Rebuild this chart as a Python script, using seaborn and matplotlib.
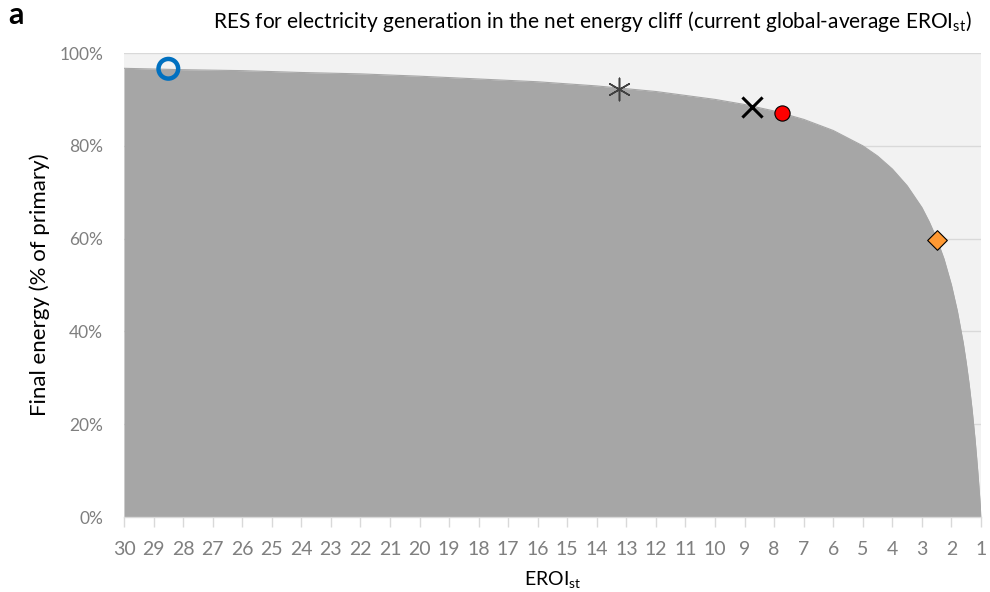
import matplotlib
matplotlib.use("Agg")
import matplotlib.pyplot as plt
import seaborn as sns
import pandas as pd
from matplotlib.ticker import PercentFormatter

# ---- data ----
eroi = [30, 28, 26, 24, 22, 20, 18, 16, 14, 12, 10, 9, 8, 7, 6, 5, 4.5, 4, 3.5, 3,
        2.75, 2.5, 2.25, 2, 1.8, 1.6, 1.5, 1.4, 1.3, 1.2, 1.15, 1.1, 1.05, 1.02, 1]
final_share = [0.967, 0.964, 0.962, 0.958, 0.955, 0.950, 0.944, 0.938, 0.929, 0.917,
               0.900, 0.889, 0.875, 0.857, 0.833, 0.800, 0.778, 0.750, 0.714, 0.667,
               0.636, 0.600, 0.556, 0.500, 0.444, 0.375, 0.333, 0.286, 0.231, 0.167,
               0.130, 0.091, 0.048, 0.020, 0.000]

tech_names = ["circle", "asterisk", "cross", "dot", "diamond"]
tech_eroi = [28.5, 13.25, 8.75, 7.75, 2.5]
tech_share = [0.966, 0.923, 0.884, 0.871, 0.598]

x_ticks = list(range(30, 0, -1))
y_ticks = [0, 0.2, 0.4, 0.6, 0.8, 1.0]

title = "RES for electricity generation in the net energy cliff (current global-average EROI$_{\\mathrm{st}}$)"
xlabel = "EROI$_{\\mathrm{st}}$"
ylabel = "Final energy (% of primary)"

# ---- style ----
sns.set_theme(style="white")
plt.rcParams["font.family"] = ["Lato", "DejaVu Sans"]
plt.rcParams["mathtext.fontset"] = "custom"
plt.rcParams["mathtext.rm"] = "Lato"
plt.rcParams["mathtext.it"] = "Lato:italic"
plt.rcParams["mathtext.bf"] = "Lato:bold"

fig = plt.figure(figsize=(9.9, 5.92), dpi=100)
ax = fig.add_axes([124 / 990, 1 - 517 / 592, (981 - 124) / 990, (517 - 53) / 592])
ax.set_facecolor("#F2F2F2")

curve = pd.DataFrame({"eroi": eroi, "share": final_share})
ax.fill_between(curve["eroi"], 0, curve["share"], color="#A6A6A6", linewidth=0, zorder=2)
sns.lineplot(data=curve, x="eroi", y="share", ax=ax, color="#A6A6A6", linewidth=0.8,
             zorder=2, legend=False)

for yv in y_ticks[1:]:
    ax.axhline(yv, color="#D9D9D9", linewidth=1.0, zorder=1)

tech = pd.DataFrame({"name": tech_names, "eroi": tech_eroi, "share": tech_share})
styles = {
    "circle": dict(marker="o", s=200, facecolor="none", edgecolor="#0070C0", linewidth=3.2),
    "asterisk": dict(marker=(6, 2, 0), s=260, color="#404040", linewidth=1.1),
    "cross": dict(marker="x", s=210, color="black", linewidth=2.2),
    "dot": dict(marker="o", s=120, color="#FF0000", edgecolor="black", linewidth=0.8),
    "diamond": dict(marker="D", s=100, color="#FF9933", edgecolor="black", linewidth=0.8),
}
for name in tech_names:
    sub = tech[tech["name"] == name]
    sns.scatterplot(data=sub, x="eroi", y="share", ax=ax, zorder=5, legend=False,
                    **styles[name])

ax.set_xlim(30, 1)
ax.set_ylim(0, 1.0)
ax.set_xticks(x_ticks)
ax.set_xticklabels([str(v) for v in x_ticks])
ax.set_yticks(y_ticks)
ax.yaxis.set_major_formatter(PercentFormatter(1.0, decimals=0))

for s in ["top", "right", "left"]:
    ax.spines[s].set_visible(False)
ax.spines["bottom"].set_color("#D9D9D9")
ax.spines["bottom"].set_linewidth(1.0)
ax.spines["bottom"].set_zorder(3)

ax.tick_params(axis="x", bottom=True, length=7, width=1.0, color="#D9D9D9",
               labelsize=14, labelcolor="#7F7F7F", pad=10)
ax.tick_params(axis="y", left=False, labelsize=12.5, labelcolor="#7F7F7F", pad=9)

ax.set_xlabel(xlabel, fontsize=14, color="black", labelpad=8)
ax.set_ylabel(ylabel, fontsize=16, color="black", labelpad=7)

fig.text(592 / 990, 1 - 21 / 592, title, ha="center", va="center", fontsize=15,
         color="black")
fig.text(8 / 990, 1 - 15 / 592, "a", ha="left", va="center", fontsize=22,
         fontweight="bold", color="black")

fig.savefig("out.png", dpi=100)
